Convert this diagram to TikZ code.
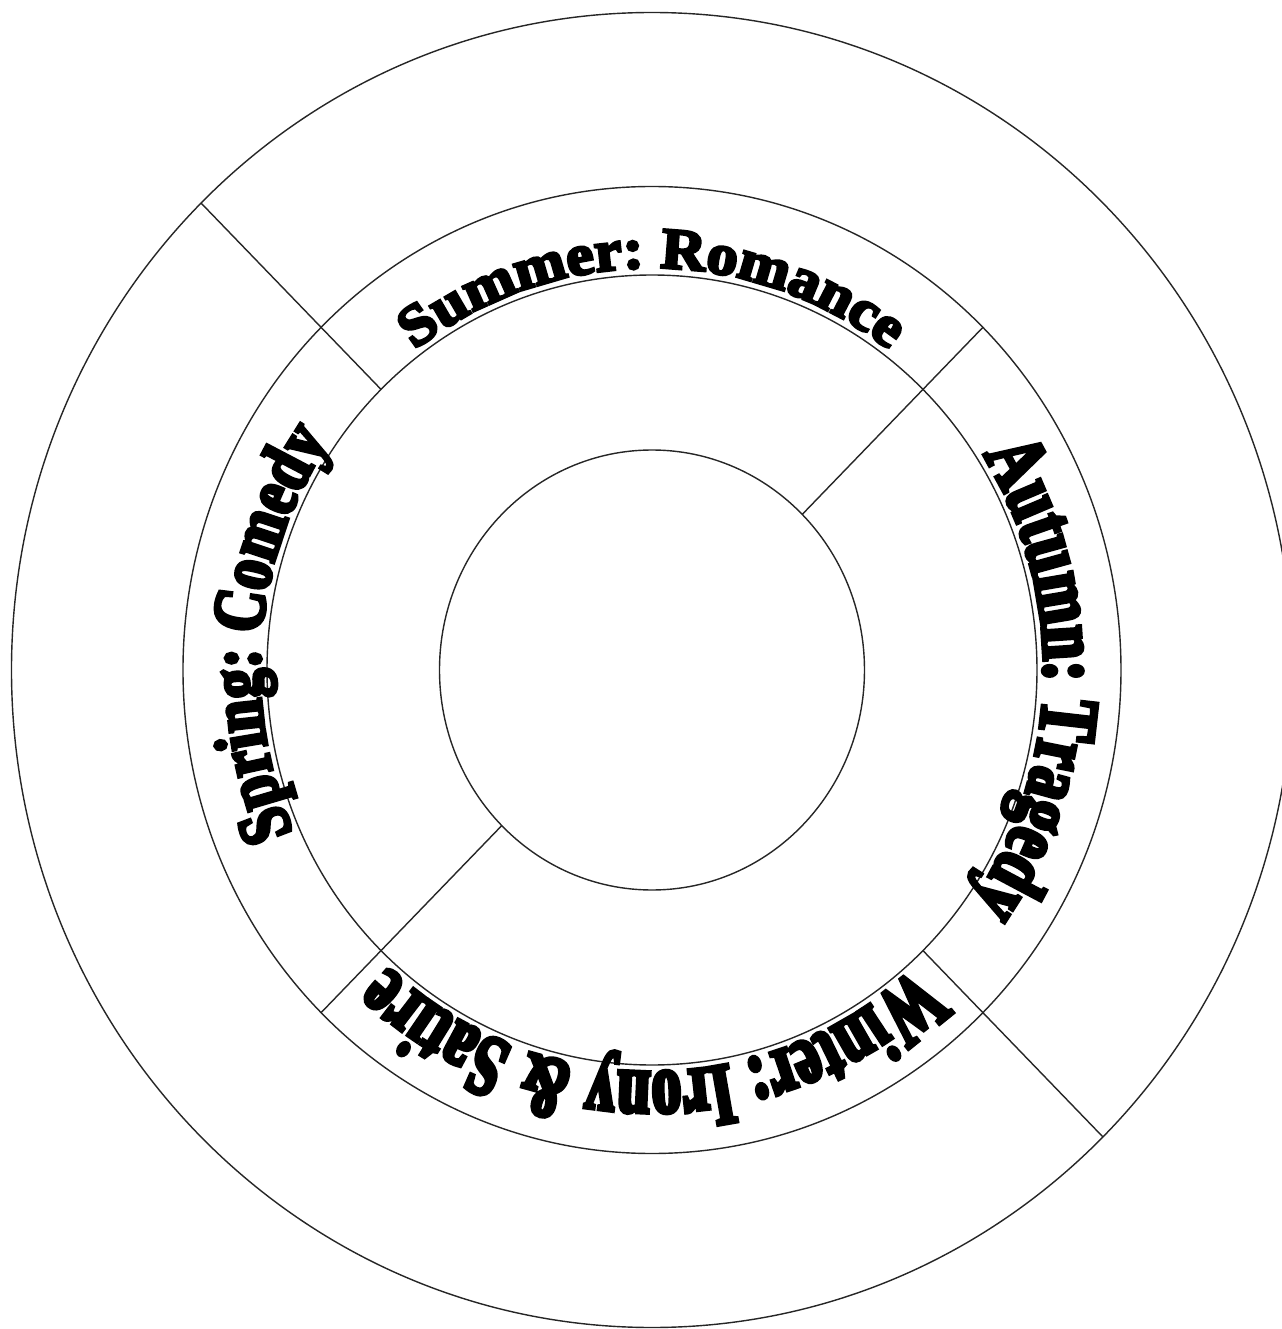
\documentclass[tikz,border=0pt]{standalone}
\usepackage{fontspec}
\usepackage{tikz}
\usetikzlibrary{shapes.geometric,decorations.text}

% heavy condensed serif for the season labels
\newfontfamily\summerfont{Liberation Serif Bold}[FakeStretch=1.07,FakeBold=5]
\newfontfamily\autumnfont{Liberation Serif Bold}[FakeStretch=0.74,FakeBold=5]
\newfontfamily\winterfont{Liberation Serif Bold}[FakeStretch=0.67,FakeBold=5]
\newfontfamily\springfont{Liberation Serif Bold}[FakeStretch=0.79,FakeBold=5]
\newcommand\summerstyle{\summerfont\fontsize{33pt}{33pt}\selectfont}
\newcommand\autumnstyle{\autumnfont\fontsize{47pt}{47pt}\selectfont}
\newcommand\winterstyle{\winterfont\fontsize{50pt}{50pt}\selectfont}
\newcommand\springstyle{\springfont\fontsize{42pt}{42pt}\selectfont}

\begin{document}
\begin{tikzpicture}[
    ring/.style    = {ellipse, draw=black!85, line width=0.8pt, inner sep=0pt,
                      outer sep=0pt},
    divider/.style = {draw=black!85, line width=0.8pt},
    season/.style  = {decorate, decoration={text along path, text align=center,
                      text={#1}}},
]
\clip (-13.04,-13.18) rectangle (12.6,13.4);

\node[ring, minimum width=25.62cm, minimum height=26.30cm] (outer)  at (0,0) {};
\node[ring, minimum width=18.76cm, minimum height=19.34cm] (bandout) at (0,0) {};
\node[ring, minimum width=15.40cm, minimum height=15.80cm] (bandin)  at (0,0) {};
\node[ring, minimum width=8.50cm,  minimum height=8.80cm]  (core)    at (0,0) {};

\draw[divider] (bandin.134)  -- (outer.134);
\draw[divider] (core.46)     -- (bandout.46);
\draw[divider] (core.226)    -- (bandout.226);
\draw[divider] (bandin.314.5) -- (outer.314.5);

% labels run clockwise round the band
\path[season={|\summerstyle|Summer: Romance}]
    (150:7.84 and 8.04) arc[start angle=150, end angle=30, x radius=7.84, y radius=8.04];
\path[season={|\autumnstyle|Autumn: Tragedy}]
    (58.5:7.84 and 8.04) arc[start angle=58.5, end angle=-61.5, x radius=7.84, y radius=8.04];
\path[season={|\winterstyle|Winter: Irony {\&} Satire}]
    (-30:7.84 and 8.04) arc[start angle=-30, end angle=-150, x radius=7.84, y radius=8.04];
\path[season={|\springstyle|Spring: Comedy}]
    (234.5:7.84 and 8.04) arc[start angle=234.5, end angle=114.5, x radius=7.84, y radius=8.04];
\end{tikzpicture}
\end{document}
